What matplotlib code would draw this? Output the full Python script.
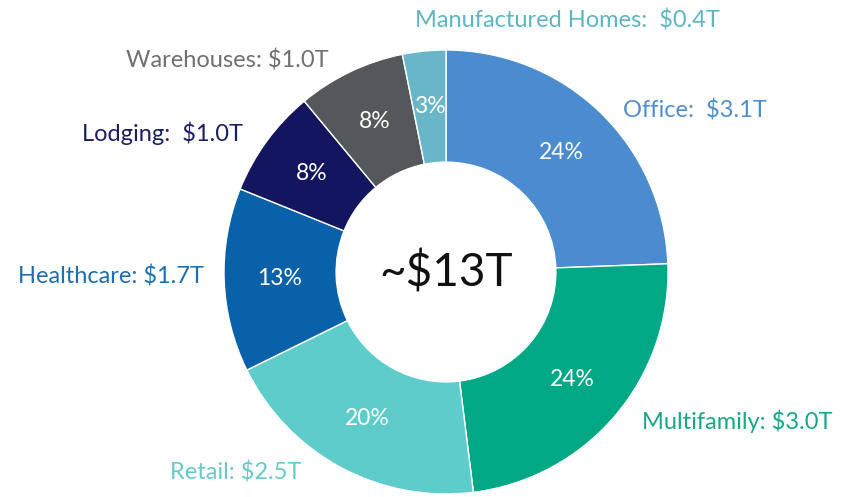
import matplotlib.pyplot as plt

# commercial real estate by segment ($T)
segments = ['Office', 'Multifamily', 'Retail', 'Healthcare', 'Lodging', 'Warehouses', 'Manufactured Homes']
values = [3.1, 3.0, 2.5, 1.7, 1.0, 1.0, 0.4]
labels = ['Office:  $3.1T', 'Multifamily: $3.0T', 'Retail: $2.5T', 'Healthcare: $1.7T',
          'Lodging:  $1.0T', 'Warehouses: $1.0T', 'Manufactured Homes:  $0.4T']
total_label = '~$13T'

colors = ['#4A8CCF', '#00A886', '#5FCCCC', '#0861A9', '#13155E', '#55585B', '#68B6C8']
text_colors = ['#4D8ED0', '#18A888', '#66CACA', '#1E6EB0', '#1B1F62', '#6F7073', '#5DB6C2']

# label positions in pixel coords (x, y from top)
label_pos = [(695, 111), (737, 421), (236, 473), (111, 277), (163, 133), (227, 60), (567, 20)]

W, H = 841, 497
cx, cy = 446, 272
R = 222

plt.rcParams['font.family'] = ['Lato', 'DejaVu Sans']
fig = plt.figure(figsize=(W / 100, H / 100), dpi=100)
ax = fig.add_axes([0, 0, 1, 1])

wedges, texts, autotexts = ax.pie(values, colors=colors, startangle=90, counterclock=False,
                                  center=(cx, H - cy), radius=R, autopct='%.0f%%', pctdistance=0.75,
                                  wedgeprops=dict(width=R * 0.505, edgecolor='white', linewidth=1),
                                  textprops=dict(color='white', fontsize=16.5), frame=True)
ax.set_xlim(0, W)
ax.set_ylim(0, H)
ax.set_aspect('equal')
ax.axis('off')

for lab, (x, y), c in zip(labels, label_pos, text_colors):
    ax.text(x, H - y, lab, color=c, fontsize=17, ha='center', va='center')

ax.text(cx, H - cy, total_label, fontsize=33, ha='center', va='center', color='#111111')

plt.savefig('out.png', dpi=100)
plt.close()
